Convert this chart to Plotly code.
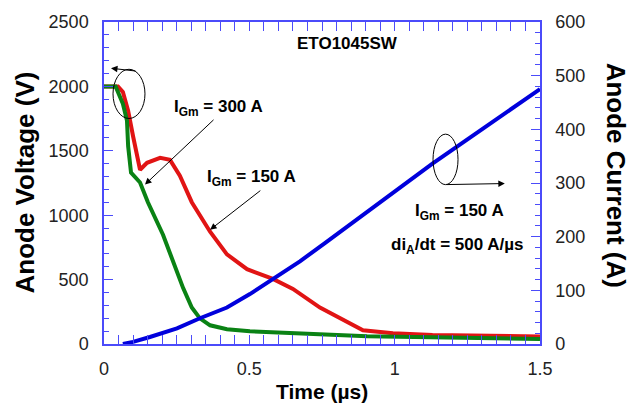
import plotly.graph_objects as go

# ---- data ----
t_current = [0.065, 0.10, 0.158, 0.251, 0.33, 0.423, 0.502, 0.581, 0.674, 0.76, 0.905, 1.0, 1.13, 1.3, 1.5]
i_current = [0, 4, 13, 29, 48, 68, 93, 121, 154, 188, 246, 284, 336, 400, 475]

t_v300 = [0, 0.04, 0.065, 0.079, 0.083, 0.093, 0.124, 0.151, 0.203, 0.237, 0.272, 0.302, 0.33, 0.365, 0.423, 0.502, 0.674, 0.905, 1.5]
v_v300 = [2000, 2000, 1865, 1735, 1537, 1330, 1254, 1100, 848, 642, 436, 283, 199, 145, 115, 99, 84, 61, 38]

t_v150 = [0, 0.048, 0.065, 0.083, 0.10, 0.124, 0.148, 0.193, 0.227, 0.261, 0.302, 0.365, 0.423, 0.492, 0.581, 0.650, 0.743, 0.891, 0.994, 1.13, 1.5]
v_v150 = [2000, 2000, 1957, 1812, 1613, 1353, 1407, 1445, 1430, 1307, 1101, 872, 696, 581, 505, 428, 283, 107, 84, 70, 58]

x_ticks = [0, 0.5, 1, 1.5]
x_tick_labels = ["0", "0.5", "1", "1.5"]

AX = "rgb(75,75,250)"
FONT = "Liberation Sans, Arial, sans-serif"

fig = go.Figure()
fig.add_trace(go.Scatter(x=t_v150, y=v_v150, mode="lines",
                         line=dict(color="rgb(225,20,20)", width=4), yaxis="y"))
fig.add_trace(go.Scatter(x=t_v300, y=v_v300, mode="lines",
                         line=dict(color="rgb(10,130,20)", width=4), yaxis="y"))
fig.add_trace(go.Scatter(x=t_current, y=i_current, mode="lines",
                         line=dict(color="rgb(0,0,220)", width=4), yaxis="y2"))

tickfont = dict(family=FONT, size=18, color="#222")

fig.update_layout(
    width=630, height=406,
    margin=dict(l=104, r=90, t=17, b=62),
    plot_bgcolor="white", paper_bgcolor="white",
    showlegend=False,
    xaxis=dict(range=[0, 1.5], tickvals=x_ticks, ticktext=x_tick_labels,
               showgrid=False, zeroline=False, showline=True, linecolor=AX, linewidth=1.5,
               ticks="inside", ticklen=9, tickcolor=AX, tickwidth=1.2, mirror="allticks",
               minor=dict(dtick=0.05, ticks="inside", ticklen=5, tickcolor=AX, showgrid=False),
               tickfont=tickfont, ticklabelstandoff=8),
    yaxis=dict(range=[0, 2500], dtick=500, showgrid=False, zeroline=False,
               showline=True, linecolor=AX, linewidth=1.5,
               ticks="inside", ticklen=9, tickcolor=AX, tickwidth=1.2,
               minor=dict(dtick=100, ticks="inside", ticklen=5, tickcolor=AX, showgrid=False),
               tickfont=tickfont, ticklabelstandoff=10),
    yaxis2=dict(range=[0, 600], dtick=100, overlaying="y", side="right", anchor="x",
                showgrid=False, zeroline=False, showline=True, linecolor=AX, linewidth=1.5,
                ticks="inside", ticklen=9, tickcolor=AX, tickwidth=1.2,
                minor=dict(dtick=20, ticks="inside", ticklen=5, tickcolor=AX, showgrid=False),
                tickfont=tickfont, ticklabelstandoff=10),
)

def px_x(p):
    return (p - 104) / 436.0

def px_y(p):
    return (344 - p) / 327.0

bold = dict(family=FONT, size=17, color="black")
anns = [
    dict(x=px_x(25), y=px_y(180), text="<b>Anode Voltage (V)</b>", textangle=-90,
         font=dict(family=FONT, size=26, color="black")),
    dict(x=px_x(616), y=px_y(172), text="<b>Anode Current (A)</b>", textangle=90,
         font=dict(family=FONT, size=26, color="black")),
    dict(x=px_x(322), y=px_y(392), text="<b>Time (µs)</b>",
         font=dict(family=FONT, size=21, color="black")),
    dict(x=px_x(347), y=px_y(39), text="<b>ETO1045SW</b>", font=bold),
    dict(x=px_x(218), y=px_y(104), text="<b>I<sub>Gm</sub> = 300 A</b>", font=bold),
    dict(x=px_x(251), y=px_y(175), text="<b>I<sub>Gm</sub> = 150 A</b>", font=bold),
    dict(x=px_x(459), y=px_y(210), text="<b>I<sub>Gm</sub> = 150 A</b>", font=bold),
    dict(x=px_x(457), y=px_y(244), text="<b>di<sub>A</sub>/dt = 500 A/µs</b>", font=bold),
]
for a in anns:
    a.update(xref="paper", yref="paper", showarrow=False, xanchor="center", yanchor="middle")

arrows = [
    dict(x=0.141, y=1238, ax=0.382, ay=1751, xref="x", yref="y", axref="x", ayref="y"),
    dict(x=0.365, y=887, ax=0.543, ay=1200, xref="x", yref="y", axref="x", ayref="y"),
    dict(x=0.024, y=2141, ax=0.1135, ay=2118, xref="x", yref="y", axref="x", ayref="y"),
    dict(x=1.379, y=299, ax=1.173, ay=297, xref="x", yref="y2", axref="x", ayref="y2"),
]
for a in arrows:
    a.update(text="", showarrow=True, arrowhead=2, arrowsize=1.3, arrowwidth=1, arrowcolor="black")

fig.update_layout(annotations=anns + arrows)

fig.add_shape(type="circle", xref="x", yref="y", x0=0.031, x1=0.141, y0=1751, y1=2133,
              line=dict(color="black", width=1))
fig.add_shape(type="circle", xref="x", yref="y2", x0=1.132, x1=1.218, y0=297, y1=391,
              line=dict(color="black", width=1))

fig.write_html("out.html")
